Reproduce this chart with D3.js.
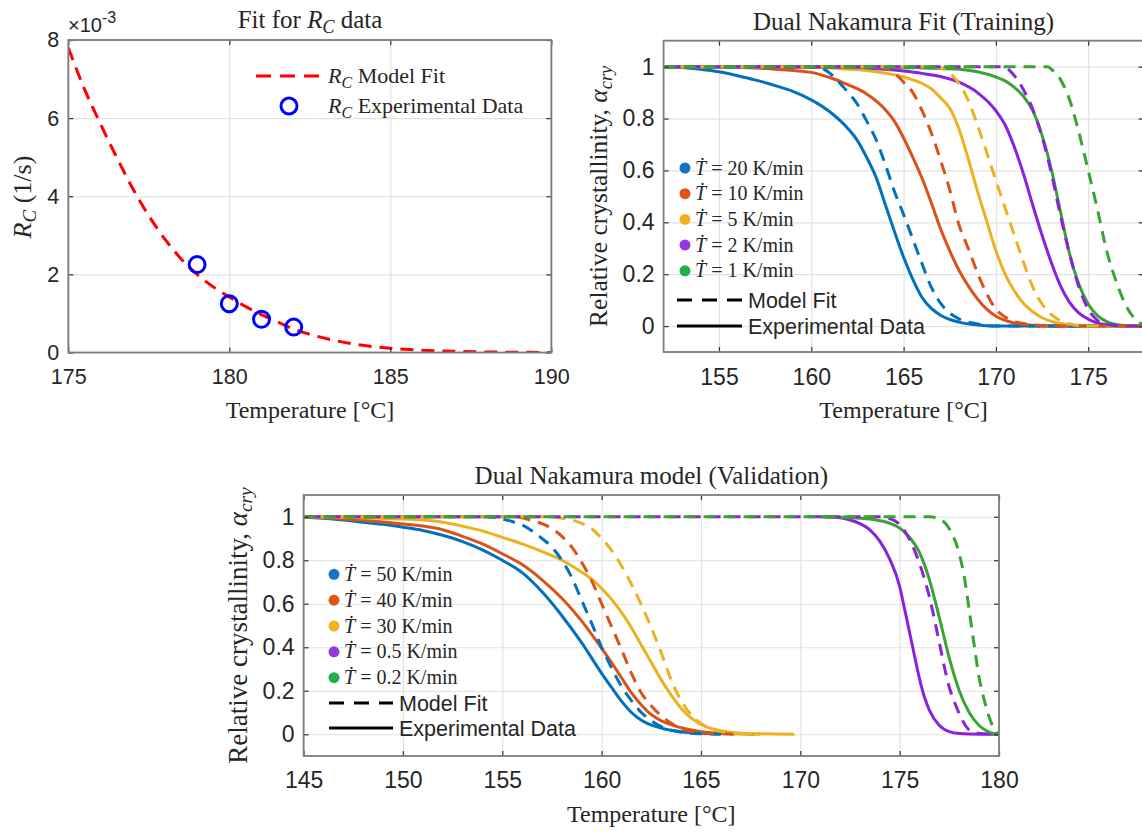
<!doctype html>
<html>
<head>
<meta charset="utf-8">
<script src="https://d3js.org/d3.v7.min.js"></script>
<style>
  body { margin: 0; background: #fff; }
  .serif { font-family: "Liberation Serif", "Times New Roman", serif; fill: #262626; }
  .sans { font-family: "Liberation Sans", Arial, sans-serif; fill: #262626; }
</style>
</head>
<body>
<svg width="1142" height="832"></svg>
<script>
// ---------- data: R_C fit (values in 1e-3 1/s) ----------
var rcFitTemp = [175,175.5,176,176.5,177,177.5,178,178.5,179,179.5,180,180.5,181,181.5,182,183,184,185,186,187,188,189,190];
var rcFitVal  = [7.8,6.75,5.85,5.0,4.2,3.5,2.9,2.4,2.0,1.68,1.42,1.18,0.97,0.78,0.6,0.36,0.2,0.11,0.06,0.03,0.015,0.006,0.002];
var rcExpTemp = [179,180,181,182];
var rcExpVal  = [2.25,1.25,0.85,0.65];

// ---------- data: training curves [T, alpha] ----------
var trainRates = ["20","10","5","2","1"];
var train20Exp = [[152,1],[153,0.997],[154,0.99],[155,0.98],[156,0.965],[157,0.948],[158,0.928],[159,0.905],[160,0.872],[161,0.826],[162,0.76],[162.5,0.715],[163,0.65],[163.5,0.575],[164,0.47],[164.5,0.365],[165,0.265],[165.5,0.18],[166,0.11],[166.5,0.068],[167,0.042],[168,0.015],[169,0.004],[170,0],[178,0]];
var train20Fit = [[152,1],[160,1],[160.5,0.995],[161,0.975],[161.5,0.94],[162,0.9],[162.5,0.855],[163,0.79],[163.5,0.72],[164,0.625],[164.5,0.52],[165,0.43],[165.5,0.335],[166,0.24],[166.5,0.15],[167,0.088],[167.5,0.05],[168,0.028],[169,0.008],[170,0],[178,0]];
var train10Exp = [[152,1],[156,0.998],[158,0.99],[159,0.985],[160,0.978],[161,0.958],[162,0.93],[163,0.895],[164,0.835],[164.5,0.79],[165,0.725],[165.5,0.65],[166,0.57],[166.5,0.475],[167,0.375],[167.5,0.29],[168,0.215],[168.5,0.155],[169,0.105],[169.5,0.065],[170,0.038],[171,0.012],[172,0.003],[173,0],[178,0]];
var train10Fit = [[152,1],[163.5,1],[164,0.995],[164.5,0.975],[165,0.94],[165.5,0.9],[166,0.83],[166.5,0.745],[167,0.64],[167.5,0.525],[168,0.39],[168.5,0.3],[169,0.205],[169.5,0.125],[170,0.065],[170.5,0.035],[171,0.018],[172,0.005],[173,0],[178,0]];
var train5Exp = [[152,1],[160,0.998],[162,0.99],[163,0.985],[164,0.975],[165,0.96],[166,0.935],[166.5,0.915],[167,0.88],[167.5,0.84],[168,0.76],[168.5,0.645],[169,0.52],[169.5,0.405],[170,0.29],[170.5,0.2],[171,0.135],[171.5,0.087],[172,0.055],[172.5,0.032],[173,0.018],[174,0.005],[175,0],[178,0]];
var train5Fit = [[152,1],[166.5,1],[167,0.995],[167.5,0.975],[168,0.935],[168.5,0.87],[169,0.775],[169.5,0.67],[170,0.56],[170.5,0.455],[171,0.35],[171.5,0.245],[172,0.15],[172.5,0.085],[173,0.045],[173.5,0.02],[174,0.008],[175,0],[178,0]];
var train2Exp = [[152,1],[162,0.998],[164,0.99],[165,0.983],[166,0.974],[167,0.962],[168,0.94],[169,0.9],[170,0.83],[170.5,0.775],[171,0.69],[171.5,0.585],[172,0.465],[172.5,0.35],[173,0.245],[173.5,0.155],[174,0.09],[174.5,0.05],[175,0.027],[176,0.005],[177,0],[178,0]];
var train2Fit = [[152,1],[170.3,1],[170.7,0.988],[171,0.965],[171.5,0.91],[172,0.835],[172.5,0.73],[173,0.59],[173.5,0.425],[174,0.275],[174.5,0.15],[175,0.065],[175.5,0.022],[176,0.006],[177,0],[178,0]];
var train1Exp = [[152,1],[164,0.998],[166,0.995],[168,0.99],[169,0.98],[170,0.96],[170.5,0.945],[171,0.92],[171.5,0.885],[172,0.83],[172.5,0.735],[173,0.605],[173.5,0.44],[174,0.275],[174.5,0.16],[175,0.085],[175.5,0.04],[176,0.017],[176.5,0.006],[177,0.002],[178,0]];
var train1Fit = [[152,1],[172.8,1],[173,0.99],[173.5,0.95],[174,0.87],[174.5,0.745],[175,0.6],[175.5,0.45],[176,0.29],[176.5,0.175],[177,0.085],[177.5,0.03],[178,0.005]];

// ---------- data: validation curves [T, alpha] ----------
var valRates = ["50","40","30","0.5","0.2"];
var val50Exp = [[145,0.998],[146,0.993],[147,0.985],[148,0.975],[149,0.965],[150,0.952],[151,0.937],[152,0.915],[153,0.886],[154,0.848],[155,0.8],[156,0.743],[157,0.655],[158,0.545],[159,0.42],[160,0.28],[160.5,0.215],[161,0.152],[161.5,0.1],[162,0.064],[163,0.028],[164,0.012],[165,0.005],[166,0.002]];
var val50Fit = [[145,1],[154,1],[155,0.99],[155.5,0.978],[156,0.962],[156.5,0.935],[157,0.9],[157.5,0.86],[158,0.8],[158.5,0.72],[159,0.615],[159.5,0.51],[160,0.4],[160.5,0.305],[161,0.22],[161.5,0.155],[162,0.1],[162.5,0.062],[163,0.035],[164,0.01],[165,0.002],[166,0]];
var val40Exp = [[145,0.998],[146,0.995],[147,0.99],[148,0.984],[149,0.976],[150,0.967],[151,0.957],[152,0.94],[153,0.91],[154,0.875],[155,0.83],[156,0.78],[157,0.71],[158,0.625],[159,0.52],[160,0.395],[160.5,0.33],[161,0.26],[161.5,0.19],[162,0.135],[162.5,0.09],[163,0.062],[164,0.03],[165,0.012],[166,0.005],[167,0.002],[167.7,0]];
var val40Fit = [[145,1],[155.5,1],[156,0.995],[156.5,0.982],[157,0.968],[157.5,0.945],[158,0.91],[158.5,0.86],[159,0.79],[159.5,0.705],[160,0.6],[160.5,0.495],[161,0.39],[161.5,0.28],[162,0.19],[162.5,0.13],[163,0.085],[163.5,0.05],[164,0.025],[165,0.008],[166,0.002],[167,0]];
var val30Exp = [[145,1],[147,0.998],[148,0.995],[149,0.992],[150,0.99],[151,0.985],[152,0.975],[153,0.957],[154,0.935],[155,0.905],[156,0.875],[157,0.84],[158,0.8],[159,0.745],[159.5,0.713],[160,0.67],[160.5,0.62],[161,0.56],[161.5,0.49],[162,0.41],[162.5,0.33],[163,0.25],[163.5,0.18],[164,0.12],[164.5,0.075],[165,0.045],[165.5,0.027],[166,0.016],[167,0.005],[168,0.002],[169.7,0]];
var val30Fit = [[145,1],[157,1],[157.5,0.998],[158,0.993],[158.5,0.985],[159,0.97],[159.5,0.945],[160,0.9],[160.5,0.845],[161,0.775],[161.5,0.69],[162,0.595],[162.5,0.49],[163,0.375],[163.5,0.25],[164,0.155],[164.5,0.09],[165,0.05],[165.5,0.025],[166,0.012],[167,0.003],[168,0]];
var val05Exp = [[171,1],[172,0.995],[172.5,0.985],[173,0.968],[173.5,0.94],[174,0.888],[174.5,0.805],[175,0.68],[175.25,0.575],[175.5,0.468],[175.75,0.36],[176,0.255],[176.25,0.17],[176.5,0.11],[177,0.04],[177.5,0.012],[178,0.003],[179,0],[180,0]];
var val05Fit = [[145,1],[174,1],[174.5,0.992],[175,0.965],[175.5,0.895],[176,0.785],[176.5,0.63],[177,0.42],[177.25,0.31],[177.5,0.215],[177.75,0.15],[178,0.095],[178.5,0.02],[179,0.004],[180,0]];
var val02Exp = [[171,1],[173,0.993],[174,0.982],[174.5,0.97],[175,0.948],[175.5,0.905],[176,0.835],[176.5,0.71],[177,0.535],[177.5,0.35],[178,0.2],[178.5,0.1],[179,0.04],[179.5,0.01],[180,0]];
var val02Fit = [[145,1],[176.5,1],[177,0.99],[177.5,0.945],[178,0.83],[178.25,0.725],[178.5,0.57],[178.75,0.41],[179,0.26],[179.25,0.16],[179.5,0.08],[179.75,0.025],[180,0]];

// ---------- ticks ----------
var rcXTicks = [175,180,185,190], rcYTicks = [0,2,4,6,8];
var trainXTicks = [155,160,165,170,175];
var valXTicks = [145,150,155,160,165,170,175,180];
var alphaTicks = [0,0.2,0.4,0.6,0.8,1];

// styles
var lineColors = ["#0072BD","#D95319","#EDB120","#8A22DD","#3BA336"];
var dotColors  = ["#1A72C4","#DE5514","#F0B020","#9438E0","#22AE4C"];

var svg = d3.select("svg");
svg.append("rect").attr("width", 1142).attr("height", 832).attr("fill", "#fff");

function makePanel(o) {
    var x = d3.scaleLinear().domain(o.xDomain).range([o.left, o.right]);
    var y = d3.scaleLinear().domain(o.yDomain).range([o.bottom, o.top]);
    var w = o.right - o.left, h = o.bottom - o.top;
    var g = svg.append("g");

    // grid
    g.append("g").attr("transform", "translate(0," + o.bottom + ")")
        .call(d3.axisBottom(x).tickValues(o.xTicks).tickSize(-h).tickFormat(""))
        .call(function (s) { s.select(".domain").remove(); s.selectAll("line").attr("stroke", "#e2e2e2").attr("stroke-width", 1.2); });
    g.append("g").attr("transform", "translate(" + o.left + ",0)")
        .call(d3.axisLeft(y).tickValues(o.yTicks).tickSize(-w).tickFormat(""))
        .call(function (s) { s.select(".domain").remove(); s.selectAll("line").attr("stroke", "#e2e2e2").attr("stroke-width", 1.2); });

    // clip for data
    var id = "clip" + o.name;
    svg.append("clipPath").attr("id", id).append("rect")
        .attr("x", o.left).attr("y", o.top).attr("width", w).attr("height", h);
    var plot = svg.append("g").attr("clip-path", "url(#" + id + ")");

    // box + inward ticks
    var axes = svg.append("g");
    var bottom = axes.append("g").attr("transform", "translate(0," + o.bottom + ")")
        .call(d3.axisBottom(x).tickValues(o.xTicks).tickSize(-5).tickFormat(function (d) { return d; }));
    bottom.selectAll("text").attr("y", o.xLabelGap).attr("dy", "0.35em")
        .attr("class", "sans").style("font-size", o.tickFont + "px").attr("fill", "#3a3a3a");
    var left = axes.append("g").attr("transform", "translate(" + o.left + ",0)")
        .call(d3.axisLeft(y).tickValues(o.yTicks).tickSize(-5).tickPadding(9).tickFormat(function (d) { return String(d); }));
    left.selectAll("text").attr("class", "sans").style("font-size", o.tickFont + "px").attr("fill", "#3a3a3a");
    axes.append("g").attr("transform", "translate(0," + o.top + ")")
        .call(d3.axisTop(x).tickValues(o.xTicks).tickSize(-5).tickFormat(""));
    axes.append("g").attr("transform", "translate(" + o.right + ",0)")
        .call(d3.axisRight(y).tickValues(o.yTicks).tickSize(-5).tickFormat(""));
    axes.selectAll(".domain").remove();
    axes.selectAll(".tick line").attr("stroke", "#333").attr("stroke-width", 1.2);
    axes.append("rect").attr("x", o.left).attr("y", o.top).attr("width", w).attr("height", h)
        .attr("fill", "none").attr("stroke", "#7d7d7d").attr("stroke-width", 1.8);

    return { x: x, y: y, plot: plot, g: g };
}

// rich text helper (italic / subscript pieces)
function addParts(t, parts) {
    parts.forEach(function (p) {
        var s = t.append("tspan").text(p.t);
        if (p.i) s.style("font-style", "italic");
        if (p.size) s.style("font-size", p.size + "px");
        if (p.dy) s.attr("dy", p.dy);
    });
    return t;
}

// ================= Panel 1: R_C fit =================
var p1 = makePanel({ name: "a", left: 68.3, right: 551.3, top: 40, bottom: 352.5,
    xDomain: [175, 190], yDomain: [0, 8], xTicks: rcXTicks, yTicks: rcYTicks,
    tickFont: 21.5, xLabelGap: 24 });

var rcLine = d3.line().x(function (d) { return p1.x(d[0]); }).y(function (d) { return p1.y(d[1]); }).curve(d3.curveMonotoneX);
p1.plot.append("path").datum(rcFitTemp.map(function (t, i) { return [t, rcFitVal[i]]; }))
    .attr("d", rcLine).attr("fill", "none").attr("stroke", "#ff0000").attr("stroke-width", 3)
    .attr("stroke-dasharray", "13,8");
svg.selectAll(".rcpt").data(rcExpTemp).enter().append("circle")
    .attr("cx", function (d) { return p1.x(d); })
    .attr("cy", function (d, i) { return p1.y(rcExpVal[i]); })
    .attr("r", 8).attr("fill", "none").attr("stroke", "#0000ff").attr("stroke-width", 3);

// multiplier
var mult = svg.append("text").attr("class", "sans").attr("x", 68).attr("y", 32).style("font-size", "20px");
mult.append("tspan").text("\u00d710");
mult.append("tspan").text("-3").attr("dy", -9).style("font-size", "16px");

// title, labels
addParts(svg.append("text").attr("class", "serif").attr("x", 310).attr("y", 28)
    .attr("text-anchor", "middle").style("font-size", "25px"),
    [{ t: "Fit for " }, { t: "R", i: 1 }, { t: "C", i: 1, size: 18, dy: 5 }, { t: " data", dy: -5 }]);
svg.append("text").attr("class", "serif").attr("x", 310).attr("y", 418)
    .attr("text-anchor", "middle").style("font-size", "24px").text("Temperature [\u00b0C]");
addParts(svg.append("text").attr("class", "serif").attr("transform", "translate(31,197) rotate(-90)")
    .attr("text-anchor", "middle").style("font-size", "26px"),
    [{ t: "R", i: 1 }, { t: "C", i: 1, size: 19, dy: 5 }, { t: " (1/s)", dy: -5 }]);

// legend
svg.append("line").attr("x1", 256).attr("x2", 322).attr("y1", 76).attr("y2", 76)
    .attr("stroke", "#ff0000").attr("stroke-width", 3).attr("stroke-dasharray", "15,9");
addParts(svg.append("text").attr("class", "serif").attr("x", 328).attr("y", 83).style("font-size", "22px"),
    [{ t: "R", i: 1 }, { t: "C", i: 1, size: 16, dy: 5 }, { t: " Model Fit", dy: -5 }]);
svg.append("circle").attr("cx", 289).attr("cy", 106).attr("r", 8)
    .attr("fill", "none").attr("stroke", "#0000ff").attr("stroke-width", 3);
addParts(svg.append("text").attr("class", "serif").attr("x", 328).attr("y", 113).style("font-size", "22px"),
    [{ t: "R", i: 1 }, { t: "C", i: 1, size: 16, dy: 5 }, { t: " Experimental Data", dy: -5 }]);

// ================= curve panels =================
function curvePanel(o, exps, fits, rates, legend) {
    var p = makePanel(o);
    var line = d3.line().x(function (d) { return p.x(d[0]); }).y(function (d) { return p.y(d[1]); }).curve(d3.curveMonotoneX);
    exps.forEach(function (e, i) {
        p.plot.append("path").datum(e).attr("d", line).attr("fill", "none")
            .attr("stroke", lineColors[i]).attr("stroke-width", 3);
    });
    fits.forEach(function (f, i) {
        p.plot.append("path").datum(f).attr("d", line).attr("fill", "none")
            .attr("stroke", lineColors[i]).attr("stroke-width", 3)
            .attr("stroke-dasharray", "12,8").attr("stroke-dashoffset", i * 5);
    });

    // legend
    rates.forEach(function (r, i) {
        var cy = legend.y0 + i * legend.step;
        svg.append("circle").attr("cx", legend.dotX).attr("cy", cy).attr("r", 5.5).attr("fill", dotColors[i]);
        var t = svg.append("text").attr("class", "serif").attr("x", legend.dotX + 10).attr("y", cy + 6.5)
            .style("font-size", legend.font + "px");
        t.append("tspan").text("\u1e6a").style("font-style", "italic");
        t.append("tspan").text(" = " + r + " K/min");
    });
    svg.append("line").attr("x1", legend.lineX0).attr("x2", legend.lineX1).attr("y1", legend.fitY).attr("y2", legend.fitY)
        .attr("stroke", "#000").attr("stroke-width", 3).attr("stroke-dasharray", "15,10");
    svg.append("text").attr("class", "sans").attr("x", legend.lineX1 + 6).attr("y", legend.fitY + 7.5)
        .style("font-size", "21.5px").text("Model Fit");
    svg.append("line").attr("x1", legend.lineX0).attr("x2", legend.lineX1).attr("y1", legend.expY).attr("y2", legend.expY)
        .attr("stroke", "#000").attr("stroke-width", 3);
    svg.append("text").attr("class", "sans").attr("x", legend.lineX1 + 6).attr("y", legend.expY + 7.5)
        .style("font-size", "21.5px").text("Experimental Data");

    // titles
    var cx = (o.left + o.right) / 2;
    svg.append("text").attr("class", "serif").attr("x", cx).attr("y", o.top - 11)
        .attr("text-anchor", "middle").style("font-size", "25px").text(o.title);
    svg.append("text").attr("class", "serif").attr("x", cx).attr("y", o.bottom + 66)
        .attr("text-anchor", "middle").style("font-size", "24px").text("Temperature [\u00b0C]");
    addParts(svg.append("text").attr("class", "serif")
        .attr("transform", "translate(" + o.yLabelX + "," + ((o.top + o.bottom) / 2) + ") rotate(-90)")
        .attr("text-anchor", "middle").style("font-size", o.yLabelFont + "px"),
        [{ t: "Relative crystallinity, " }, { t: "\u03b1", i: 1 }, { t: "cry", i: 1, size: o.yLabelFont * 0.72, dy: 5 }]);
}

curvePanel({ name: "b", left: 663.6, right: 1143.6, top: 40.7, bottom: 352,
    xDomain: [152, 178], yDomain: [-0.1, 1.1], xTicks: trainXTicks, yTicks: alphaTicks,
    tickFont: 23, xLabelGap: 25, title: "Dual Nakamura Fit (Training)", yLabelX: 607, yLabelFont: 25.5 },
    [train20Exp, train10Exp, train5Exp, train2Exp, train1Exp],
    [train20Fit, train10Fit, train5Fit, train2Fit, train1Fit],
    trainRates,
    { dotX: 685, y0: 168, step: 25.7, lineX0: 677, lineX1: 742, fitY: 300, expY: 326, font: 20 });

curvePanel({ name: "c", left: 303.6, right: 999, top: 495, bottom: 756,
    xDomain: [145, 180], yDomain: [-0.1, 1.1], xTicks: valXTicks, yTicks: alphaTicks,
    tickFont: 23, xLabelGap: 24, title: "Dual Nakamura model (Validation)", yLabelX: 247, yLabelFont: 27 },
    [val50Exp, val40Exp, val30Exp, val05Exp, val02Exp],
    [val50Fit, val40Fit, val30Fit, val05Fit, val02Fit],
    valRates,
    { dotX: 334, y0: 574.3, step: 25.85, lineX0: 329, lineX1: 393, fitY: 703, expY: 728, font: 20 });
</script>
</body>
</html>
